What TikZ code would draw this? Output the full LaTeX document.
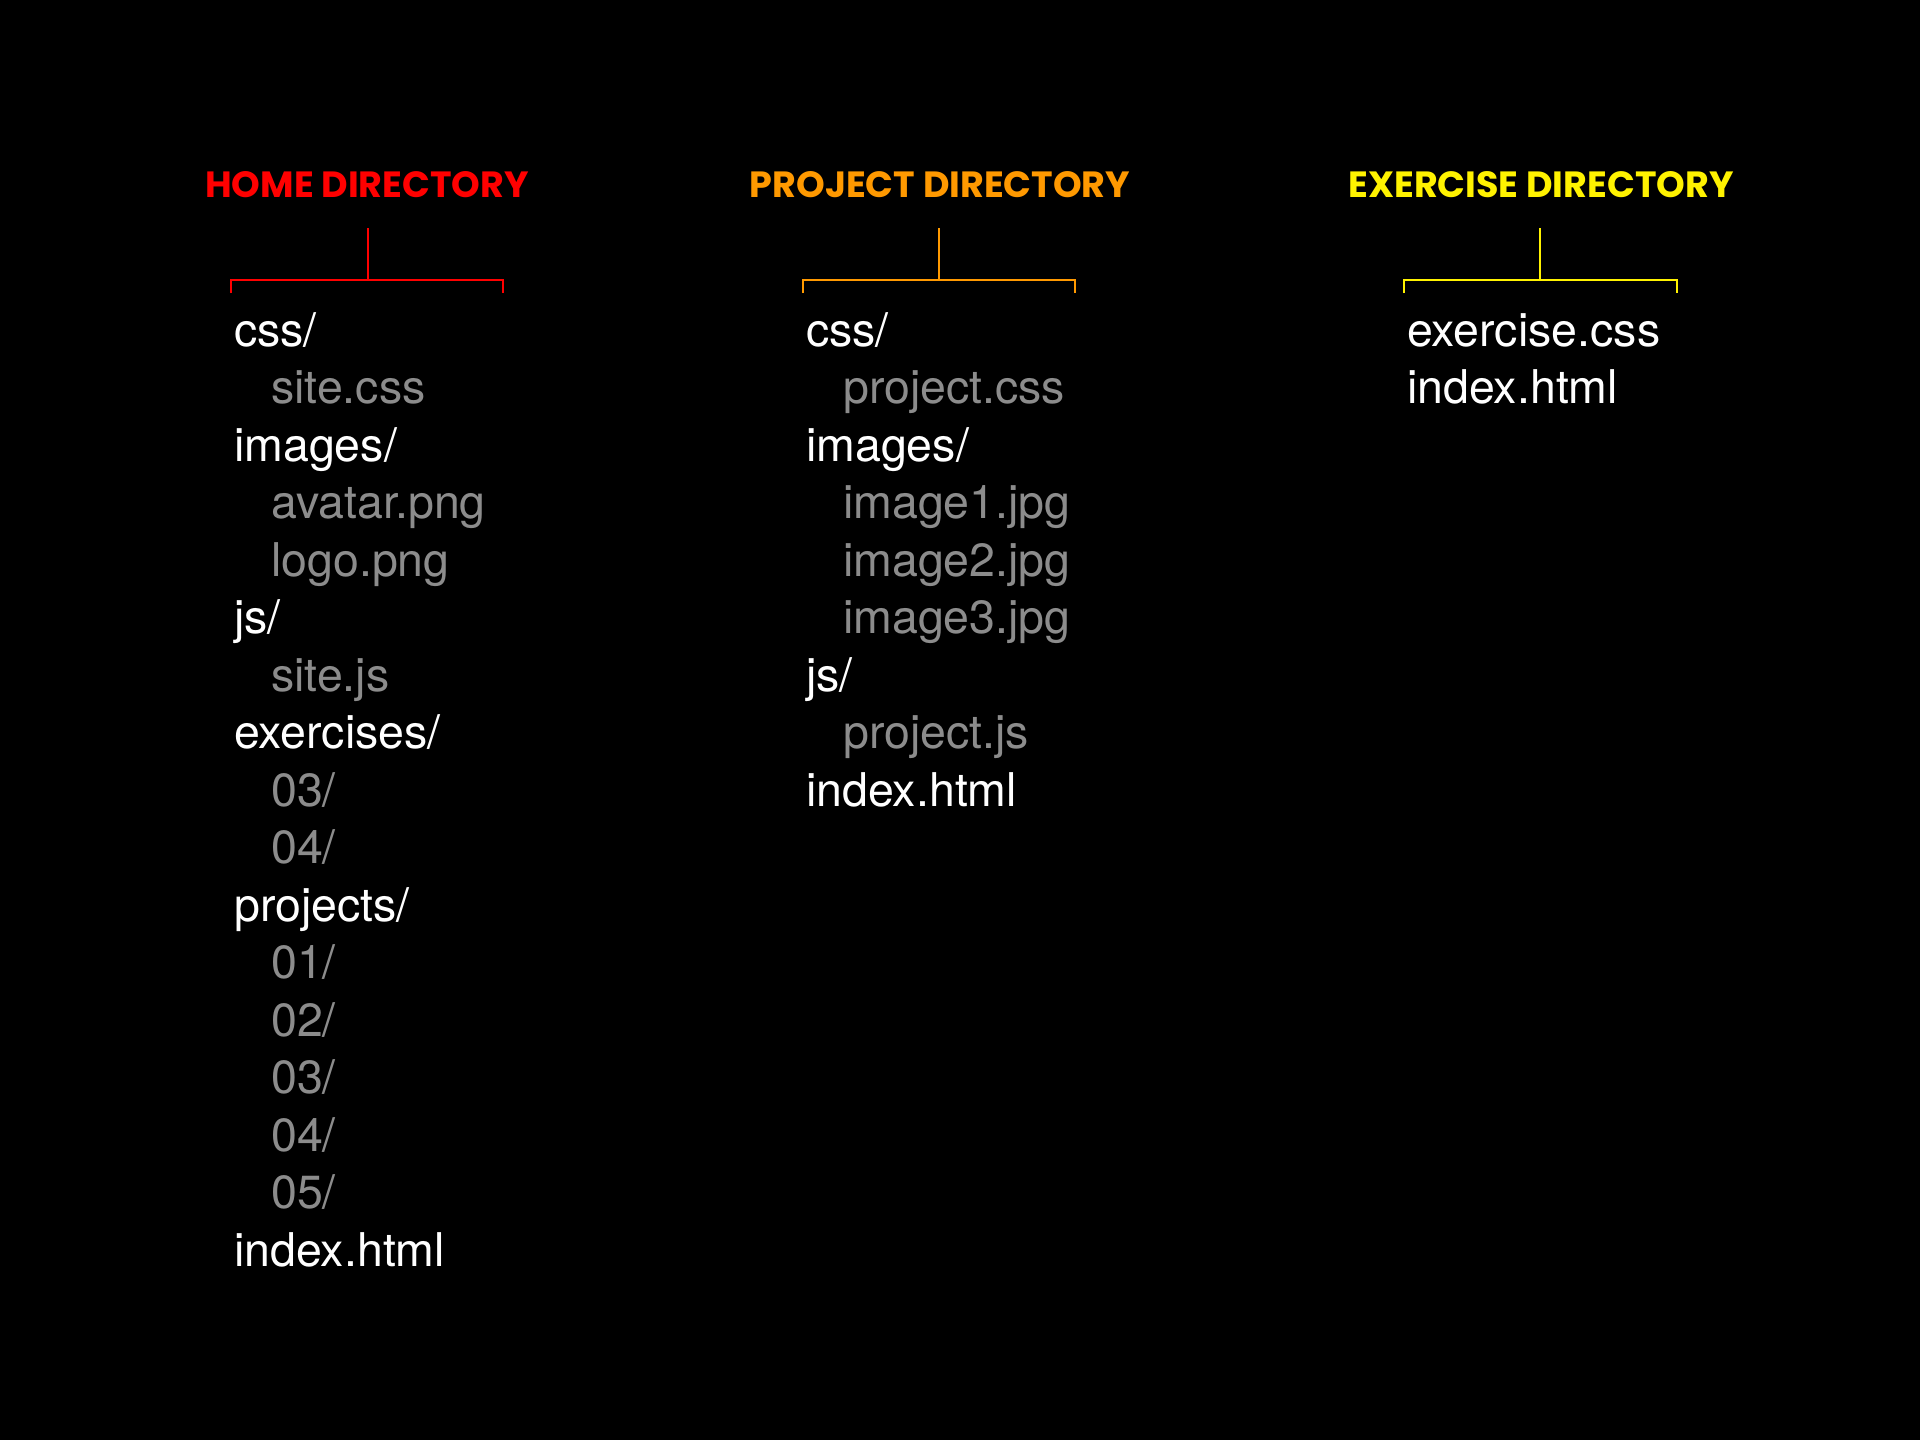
\documentclass[tikz,border=0pt]{standalone}
\usepackage{fontspec}
\setmainfont{TeX Gyre Heros}
\newfontfamily\headfont{Poppins}

\definecolor{homered}{HTML}{FF0000}
\definecolor{projorange}{HTML}{FF9900}
\definecolor{exyellow}{HTML}{FFF200}
\definecolor{filegray}{HTML}{8C8C8C}

\begin{document}
\begin{tikzpicture}[x=1pt,y=-1pt,
  dirname/.style={anchor=base west,inner sep=0pt,text=white,font=\fontsize{46.5}{56}\selectfont},
  filename/.style={dirname,text=filegray},
  header/.style={anchor=base,inner sep=0pt,font=\headfont\bfseries\fontsize{36.5}{44}\selectfont},
  stem/.style={line width=1.2pt},
  bar/.style={line width=2pt}]
\fill[black] (0,0) rectangle (1920,1440);

% headers
\node[header,text=homered] (home) at (367,197) {HOME DIRECTORY};
\node[header,text=projorange] (project) at (940,197) {PROJECT DIRECTORY};
\node[header,text=exyellow] (exercise) at (1541,197) {EXERCISE DIRECTORY};

% brackets
\coordinate (homestem) at (368,228);
\coordinate (homejoin) at (368,280);
\coordinate (homeleft) at (231,293);
\coordinate (homeright) at (503,293);
\draw[homered,stem] (homestem) -- (homejoin);
\draw[homered,bar] (homeleft) |- (homejoin) -| (homeright);

\coordinate (projstem) at (939,228);
\coordinate (projjoin) at (939,280);
\coordinate (projleft) at (803,293);
\coordinate (projright) at (1075,293);
\draw[projorange,stem] (projstem) -- (projjoin);
\draw[projorange,bar] (projleft) |- (projjoin) -| (projright);

\coordinate (exstem) at (1540,228);
\coordinate (exjoin) at (1540,280);
\coordinate (exleft) at (1404,293);
\coordinate (exright) at (1677,293);
\draw[exyellow,stem] (exstem) -- (exjoin);
\draw[exyellow,bar] (exleft) |- (exjoin) -| (exright);

% home directory
\node[dirname] (hcss) at (234,346) {css/};
\node[filename] (hsitecss) at (271,403.5) {site.css};
\node[dirname] (himages) at (234,461) {images/};
\node[filename] (havatar) at (271,518.5) {avatar.png};
\node[filename] (hlogo) at (271,576) {logo.png};
\node[dirname] (hjs) at (234,633.5) {js/};
\node[filename] (hsitejs) at (271,691) {site.js};
\node[dirname] (hexercises) at (234,748.5) {exercises/};
\node[filename] (hexthree) at (271,806) {03/};
\node[filename] (hexfour) at (271,863.5) {04/};
\node[dirname] (hprojects) at (234,921) {projects/};
\node[filename] (hpone) at (271,978.5) {01/};
\node[filename] (hptwo) at (271,1036) {02/};
\node[filename] (hpthree) at (271,1093.5) {03/};
\node[filename] (hpfour) at (271,1151) {04/};
\node[filename] (hpfive) at (271,1208.5) {05/};
\node[dirname] (hindex) at (234,1266) {index.html};

% project directory
\node[dirname] (pcss) at (806,346) {css/};
\node[filename] (pprojcss) at (843,403.5) {project.css};
\node[dirname] (pimages) at (806,461) {images/};
\node[filename] (pimgone) at (843,518.5) {image1.jpg};
\node[filename] (pimgtwo) at (843,576) {image2.jpg};
\node[filename] (pimgthree) at (843,633.5) {image3.jpg};
\node[dirname] (pjs) at (806,691) {js/};
\node[filename] (pprojjs) at (843,748.5) {project.js};
\node[dirname] (pindex) at (806,806) {index.html};

% exercise directory
\node[dirname] (eexcss) at (1407,346) {exercise.css};
\node[dirname] (eindex) at (1407,403.5) {index.html};
\end{tikzpicture}
\end{document}
